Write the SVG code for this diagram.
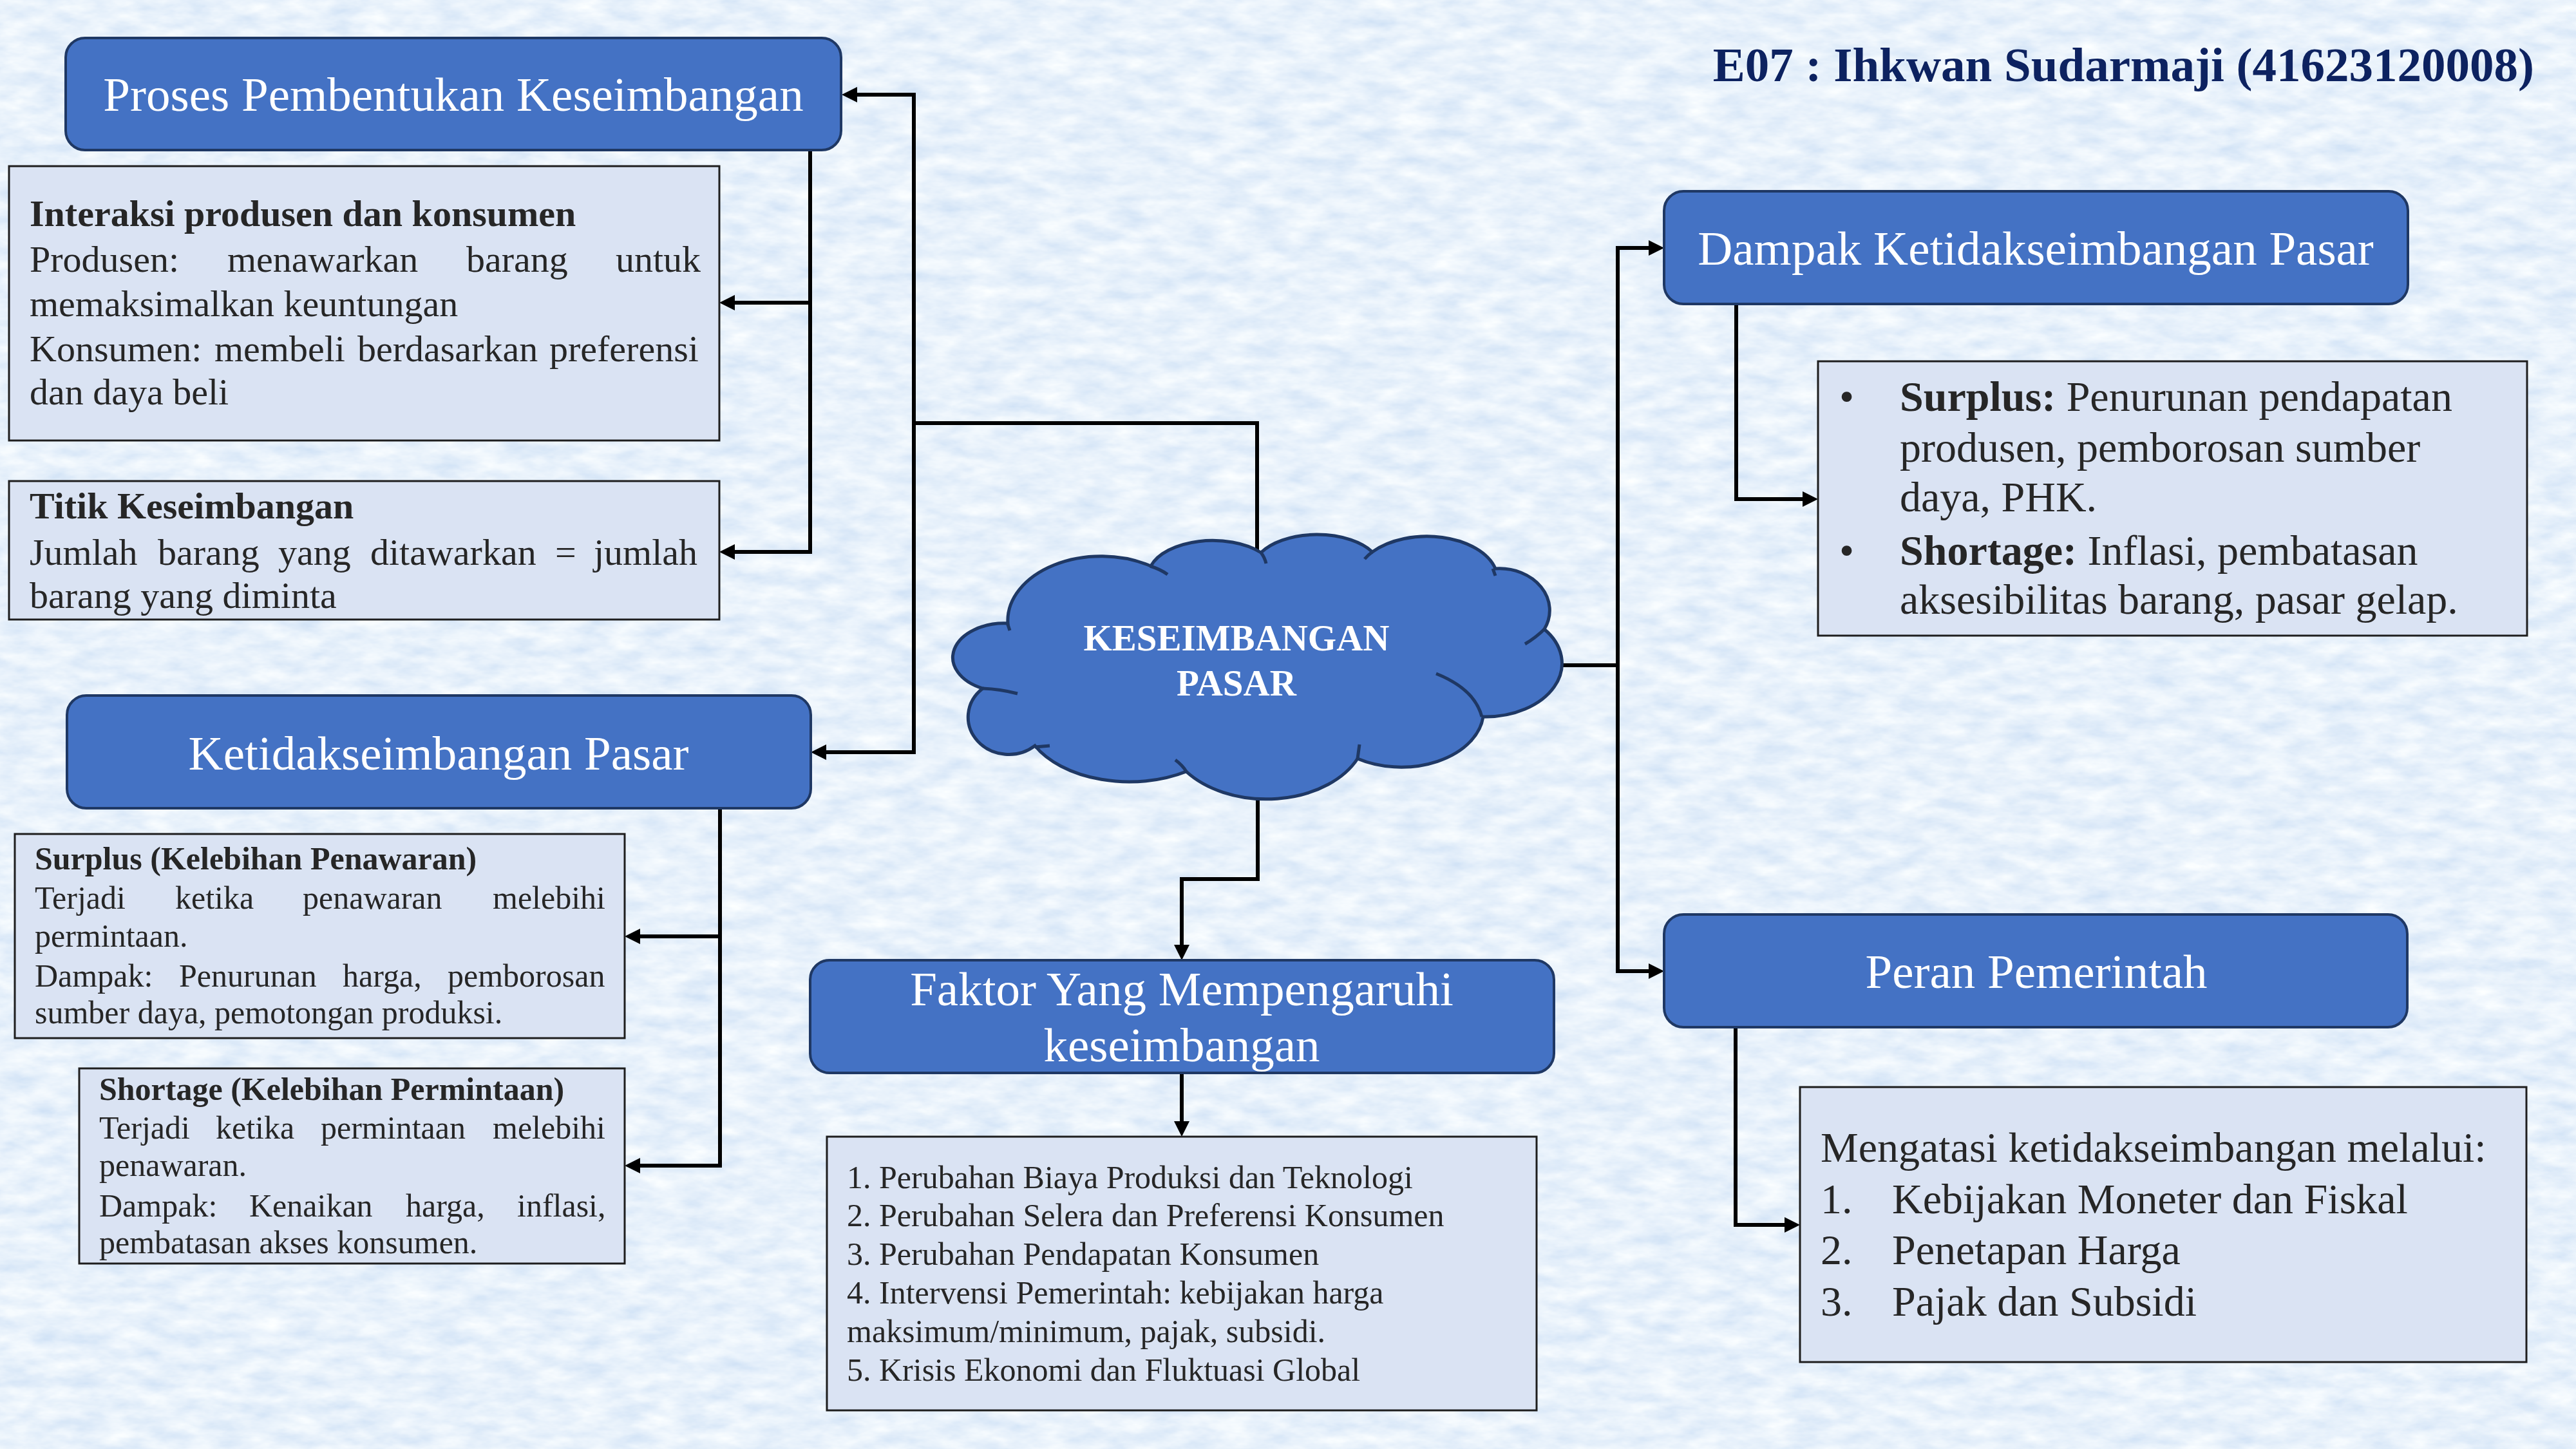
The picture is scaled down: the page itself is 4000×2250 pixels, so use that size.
<svg xmlns="http://www.w3.org/2000/svg" width="4000" height="2250" viewBox="0 0 4000 2250">
<defs>
<style>
.hdr{fill:#4472C4;stroke:#1F3864;stroke-width:4}
.det{fill:#DAE3F3;stroke:#1e1e1e;stroke-width:3}
.ht{font-family:"Liberation Serif","Times New Roman",serif;font-size:75px;fill:#ffffff;text-anchor:middle}
.dt{font-family:"Liberation Serif","Times New Roman",serif;fill:#262626}
.s58{font-size:58px}
.s50{font-size:50px}
.s66{font-size:66px}
.b{font-weight:bold}
.con{fill:none;stroke:#000;stroke-width:6;stroke-linejoin:miter}
.arw{marker-end:url(#arr)}
</style>
<marker id="arr" markerUnits="userSpaceOnUse" markerWidth="24" markerHeight="24" viewBox="0 0 24 24" refX="0" refY="12" orient="auto">
<path d="M0,0 L24,12 L0,24 Z" fill="#000"/>
</marker>
<filter id="paper" filterUnits="userSpaceOnUse" x="0" y="0" width="4000" height="2250">
<feTurbulence type="fractalNoise" baseFrequency="0.018 0.045" numOctaves="4" seed="7" result="n"/>
<feColorMatrix in="n" type="matrix" values="0.40 0 0 0 0.61  0.28 0 0 0 0.745  0.10 0 0 0 0.915  0 0 0 0 1"/>
</filter>
</defs>

<rect x="0" y="0" width="4000" height="2250" fill="#d3e3f6"/>
<rect x="0" y="0" width="4000" height="2250" fill="#d3e3f6" filter="url(#paper)"/>

<g id="connectors">
<path class="con arw" d="M1952,880 V657 H1419 V147 H1331"/>
<path class="con arw" d="M1419,657 V1168 H1283"/>
<path class="con arw" d="M1258,225 V857 H1141"/>
<path class="con arw" d="M1258,470 H1141"/>
<path class="con arw" d="M1118,1245 V1810 H994"/>
<path class="con arw" d="M1118,1454 H994"/>
<path class="con arw" d="M2415,1033 H2512 V385 H2560"/>
<path class="con arw" d="M2512,1033 V1508 H2560"/>
<path class="con arw" d="M2696,465 V775 H2799"/>
<path class="con arw" d="M2695,1588 V1902 H2771"/>
<path class="con arw" d="M1953,1215 V1365 H1835 V1467"/>
<path class="con arw" d="M1835,1660 V1741"/>
</g>

<g id="title">
<text x="3935" y="126" text-anchor="end" font-family="'Liberation Serif','Times New Roman',serif" font-size="75" font-weight="bold" fill="#0D2260">E07 : Ihkwan Sudarmaji (41623120008)</text>
</g>

<g id="node-proses">
<rect class="hdr" x="102" y="59" width="1204" height="174" rx="30" ry="30"/>
<text class="ht" x="704" y="172">Proses Pembentukan Keseimbangan</text>
</g>

<g id="node-interaksi">
<rect class="det" x="14" y="258" width="1103" height="426"/>
<text class="dt s58 b" x="46" y="351">Interaksi produsen dan konsumen</text>
<text class="dt s58" y="422"><tspan x="46">Produsen:</tspan><tspan x="353">menawarkan</tspan><tspan x="724">barang</tspan><tspan x="956">untuk</tspan></text>
<text class="dt s58" x="46" y="491">memaksimalkan keuntungan</text>
<text class="dt s58" y="561"><tspan x="46">Konsumen:</tspan><tspan x="333">membeli</tspan><tspan x="555">berdasarkan</tspan><tspan x="853">preferensi</tspan></text>
<text class="dt s58" x="46" y="628">dan daya beli</text>
</g>

<g id="node-titik">
<rect class="det" x="14" y="747" width="1103" height="215"/>
<text class="dt s58 b" x="46" y="805">Titik Keseimbangan</text>
<text class="dt s58" y="877"><tspan x="46">Jumlah</tspan><tspan x="245">barang</tspan><tspan x="432">yang</tspan><tspan x="575">ditawarkan</tspan><tspan x="862">=</tspan><tspan x="922">jumlah</tspan></text>
<text class="dt s58" x="46" y="944">barang yang diminta</text>
</g>

<g id="node-ketidakseimbangan">
<rect class="hdr" x="104" y="1080" width="1155" height="175" rx="30" ry="30"/>
<text class="ht" x="681" y="1195">Ketidakseimbangan Pasar</text>
</g>

<g id="node-surplus">
<rect class="det" x="23" y="1295" width="947" height="317"/>
<text class="dt s50 b" x="54" y="1350">Surplus (Kelebihan Penawaran)</text>
<text class="dt s50" y="1411"><tspan x="54">Terjadi</tspan><tspan x="272">ketika</tspan><tspan x="470">penawaran</tspan><tspan x="765">melebihi</tspan></text>
<text class="dt s50" x="54" y="1470">permintaan.</text>
<text class="dt s50" y="1532"><tspan x="54">Dampak:</tspan><tspan x="278">Penurunan</tspan><tspan x="532">harga,</tspan><tspan x="695">pemborosan</tspan></text>
<text class="dt s50" x="54" y="1589">sumber daya, pemotongan produksi.</text>
</g>

<g id="node-shortage">
<rect class="det" x="123" y="1659" width="847" height="303"/>
<text class="dt s50 b" x="154" y="1708">Shortage (Kelebihan Permintaan)</text>
<text class="dt s50" y="1768"><tspan x="154">Terjadi</tspan><tspan x="335">ketika</tspan><tspan x="498">permintaan</tspan><tspan x="765">melebihi</tspan></text>
<text class="dt s50" x="154" y="1826">penawaran.</text>
<text class="dt s50" y="1889"><tspan x="154">Dampak:</tspan><tspan x="387">Kenaikan</tspan><tspan x="630">harga,</tspan><tspan x="803">inflasi,</tspan></text>
<text class="dt s50" x="154" y="1946">pembatasan akses konsumen.</text>
</g>

<g id="node-keseimbangan-pasar">
<path d="M1565,968 A145,100 0 0,1 1787,879 A100,55 0 0,1 1958,858 A100,55 0 0,1 2131,857 A110,67 0 0,1 2322,883 A78,65 0 0,1 2398,977 A119,83 0 0,1 2303,1113 A128,87 0 0,1 2108,1178 A155,106 0 0,1 1842,1198 A165,103 0 0,1 1607,1158 A60,55 0 0,1 1526,1069 A80,53 0 0,1 1565,968 Z" fill="#4472C4" stroke="#1F3864" stroke-width="5"/>
<path d="M1564,967 L1568,979 M1786,879 Q1802,884 1813,892 M1958,858 Q1964,866 1966,875 M2131,857 Q2124,862 2119,868 M2318,883 L2322,894 M2398,977 Q2385,990 2368,1000 M2230,1046 Q2290,1070 2301,1113 M2111,1156 L2108,1178 M1825,1180 Q1836,1188 1842,1198 M1630,1158 L1607,1160 M1580,1077 Q1553,1070 1526,1069" fill="none" stroke="#1F3864" stroke-width="5"/>
<text x="1920" y="1010" text-anchor="middle" font-family="'Liberation Serif','Times New Roman',serif" font-size="57" font-weight="bold" fill="#ffffff">KESEIMBANGAN</text>
<text x="1920" y="1080" text-anchor="middle" font-family="'Liberation Serif','Times New Roman',serif" font-size="57" font-weight="bold" fill="#ffffff">PASAR</text>
</g>

<g id="node-faktor">
<rect class="hdr" x="1258" y="1491" width="1155" height="175" rx="30" ry="30"/>
<text class="ht" x="1835" y="1561">Faktor Yang Mempengaruhi</text>
<text class="ht" x="1835" y="1648">keseimbangan</text>
</g>

<g id="node-faktor-detail">
<rect class="det" x="1284" y="1765" width="1102" height="425"/>
<text class="dt s50" x="1315" y="1845">1. Perubahan Biaya Produksi dan Teknologi</text>
<text class="dt s50" x="1315" y="1904">2. Perubahan Selera dan Preferensi Konsumen</text>
<text class="dt s50" x="1315" y="1964">3. Perubahan Pendapatan Konsumen</text>
<text class="dt s50" x="1315" y="2024">4. Intervensi Pemerintah: kebijakan harga</text>
<text class="dt s50" x="1315" y="2084">maksimum/minimum, pajak, subsidi.</text>
<text class="dt s50" x="1315" y="2144">5. Krisis Ekonomi dan Fluktuasi Global</text>
</g>

<g id="node-dampak">
<rect class="hdr" x="2584" y="297" width="1155" height="175" rx="30" ry="30"/>
<text class="ht" x="3161" y="411">Dampak Ketidakseimbangan Pasar</text>
</g>

<g id="node-dampak-detail">
<rect class="det" x="2823" y="561" width="1101" height="426"/>
<text class="dt s66" x="2856" y="638">•</text>
<text class="dt s66" x="2950" y="638"><tspan font-weight="bold">Surplus:</tspan> Penurunan pendapatan</text>
<text class="dt s66" x="2950" y="717">produsen, pemborosan sumber</text>
<text class="dt s66" x="2950" y="794">daya, PHK.</text>
<text class="dt s66" x="2856" y="877">•</text>
<text class="dt s66" x="2950" y="877"><tspan font-weight="bold">Shortage:</tspan> Inflasi, pembatasan</text>
<text class="dt s66" x="2950" y="953">aksesibilitas barang, pasar gelap.</text>
</g>

<g id="node-peran">
<rect class="hdr" x="2584" y="1420" width="1154" height="175" rx="30" ry="30"/>
<text class="ht" x="3162" y="1534">Peran Pemerintah</text>
</g>

<g id="node-peran-detail">
<rect class="det" x="2795" y="1688" width="1128" height="427"/>
<text class="dt s66" x="2827" y="1804">Mengatasi ketidakseimbangan melalui:</text>
<text class="dt s66" x="2827" y="1884">1.</text>
<text class="dt s66" x="2938" y="1884">Kebijakan Moneter dan Fiskal</text>
<text class="dt s66" x="2827" y="1963">2.</text>
<text class="dt s66" x="2938" y="1963">Penetapan Harga</text>
<text class="dt s66" x="2827" y="2043">3.</text>
<text class="dt s66" x="2938" y="2043">Pajak dan Subsidi</text>
</g>
</svg>
